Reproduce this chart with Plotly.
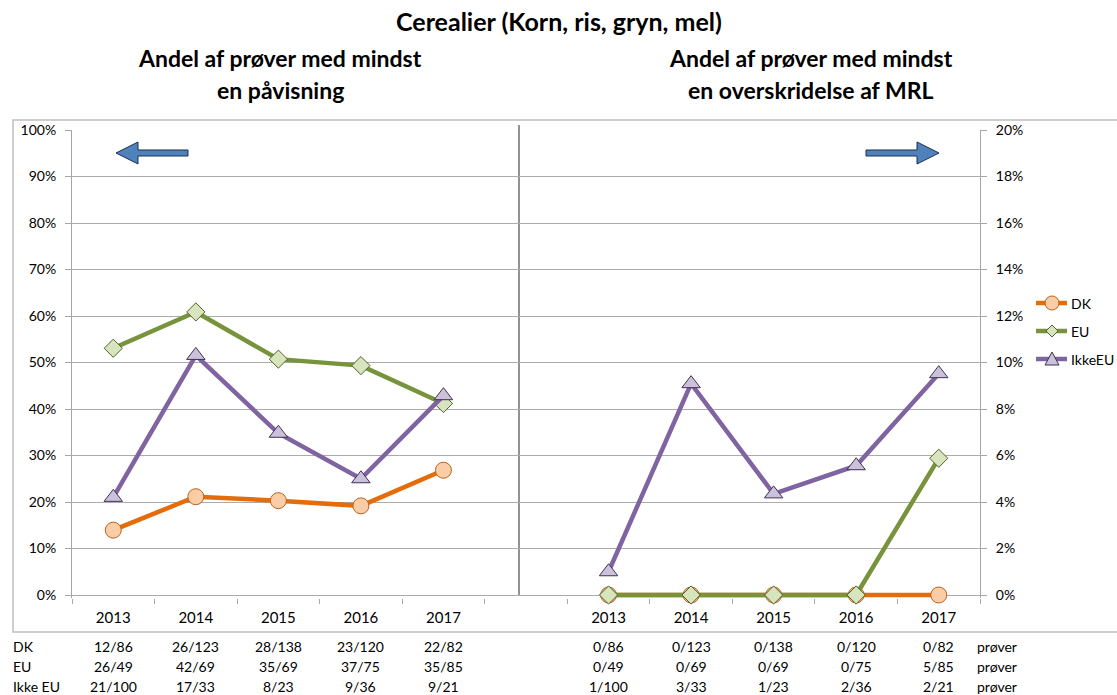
import plotly.graph_objects as go

years = ["2013", "2014", "2015", "2016", "2017"]
series_names = ["DK", "EU", "IkkeEU"]
row_labels = ["DK", "EU", "Ikke EU"]

# Left panel: share of samples with at least one detection (%)
dk_detect = [13.95, 21.14, 20.29, 19.17, 26.83]
eu_detect = [53.06, 60.87, 50.72, 49.33, 41.18]
ikkeeu_detect = [21.0, 51.52, 34.78, 25.0, 42.86]

# Right panel: share of samples with at least one MRL exceedance (%)
dk_mrl = [0.0, 0.0, 0.0, 0.0, 0.0]
eu_mrl = [0.0, 0.0, 0.0, 0.0, 5.88]
ikkeeu_mrl = [1.0, 9.09, 4.35, 5.56, 9.52]

# Table of counts
dk_detect_txt = ["12/86", "26/123", "28/138", "23/120", "22/82"]
eu_detect_txt = ["26/49", "42/69", "35/69", "37/75", "35/85"]
ikkeeu_detect_txt = ["21/100", "17/33", "8/23", "9/36", "9/21"]
dk_mrl_txt = ["0/86", "0/123", "0/138", "0/120", "0/82"]
eu_mrl_txt = ["0/49", "0/69", "0/69", "0/75", "5/85"]
ikkeeu_mrl_txt = ["1/100", "3/33", "1/23", "2/36", "2/21"]

FONT = "Lato"
left_x = list(range(len(years)))
right_x = [i + len(years) + 1 for i in range(len(years))]
all_x = left_x + right_x

styles = {
    "DK": dict(line="#E46C0A", fill="#FBCDA6", edge="#B8621C", symbol="circle", size=16),
    "EU": dict(line="#77933C", fill="#D7E4BD", edge="#4F6228", symbol="diamond", size=14),
    "IkkeEU": dict(line="#8064A2", fill="#CCC1DA", edge="#3F3151", symbol="triangle-up", size=16),
}

fig = go.Figure()
left_data = [dk_detect, eu_detect, ikkeeu_detect]
right_data = [dk_mrl, eu_mrl, ikkeeu_mrl]
for name, ld, rd in zip(series_names, left_data, right_data):
    s = styles[name]
    mk = dict(symbol=s["symbol"], size=s["size"], color=s["fill"], line=dict(color=s["edge"], width=1))
    fig.add_trace(go.Scatter(x=left_x, y=ld, name=name, mode="lines+markers", showlegend=False,
                             line=dict(color=s["line"], width=4.5), marker=mk, cliponaxis=False))
    fig.add_trace(go.Scatter(x=right_x, y=rd, name=name, mode="lines+markers", showlegend=False, yaxis="y2",
                             line=dict(color=s["line"], width=4.5), marker=mk, cliponaxis=False))

# geometry (pixels): 0% at y=595, 100% at y=130; plot area extends 3px below 0 so lines at 0 are not clipped
W, H = 1117, 695
L, R, T, B0 = 72, 980, 130, 595
EXTRA = 3
BP = B0 + EXTRA
PXPCT = (B0 - T) / 100.0
y1min = -EXTRA / PXPCT
y2min = y1min / 5.0

def px(xp):
    return (xp - L) / (R - L)
def py(yp):
    return (BP - yp) / (BP - T)

def txt(text, xp, yp, size, xanchor="center", xref="paper", bold=False):
    return dict(text=("<b>%s</b>" % text) if bold else text, x=xp, y=py(yp), xref=xref, yref="paper",
                xanchor=xanchor, yanchor="middle", showarrow=False,
                font=dict(size=size, family=FONT, color="black"))

annotations = []
annotations.append(txt("Cerealier (Korn, ris, gryn, mel)", px(559), 21, 25, bold=True))
for t, xp, yp in [("Andel af prøver med mindst", 280, 58), ("en påvisning", 280, 90),
                  ("Andel af prøver med mindst", 811, 58), ("en overskridelse af MRL", 811, 90)]:
    annotations.append(txt(t, px(xp), yp, 23, bold=True))

rows_left = [dk_detect_txt, eu_detect_txt, ikkeeu_detect_txt]
rows_right = [dk_mrl_txt, eu_mrl_txt, ikkeeu_mrl_txt]
for r, (lab, lt, rt) in enumerate(zip(row_labels, rows_left, rows_right)):
    yp = 646 + 20 * r
    annotations.append(txt(lab, px(11), yp, 14, xanchor="left"))
    for xi, t in zip(left_x + right_x, lt + rt):
        annotations.append(txt(t, xi, yp, 14, xref="x"))
    annotations.append(txt("prøver", px(975), yp, 14, xanchor="left"))

shapes = []
shapes.append(dict(type="rect", xref="paper", yref="paper", x0=px(13), x1=px(1125), y0=py(632), y1=py(120),
                   line=dict(color="#BFBFBF", width=1.5), layer="below"))
shapes.append(dict(type="line", xref="paper", yref="paper", x0=px(519), x1=px(519), y0=py(595), y1=py(125),
                   line=dict(color="#262626", width=1), layer="below"))

def poly(pts):
    return "M " + " L ".join("%f,%f" % (px(a), py(b)) for a, b in pts) + " Z"

def arrow_pts(x_tip, x_tail, yc, d):
    hh, sh, hl = 11, 3, 22
    xb = x_tip - d * hl
    return [(x_tail, yc - sh), (xb, yc - sh), (xb, yc - hh), (x_tip, yc), (xb, yc + hh), (xb, yc + sh), (x_tail, yc + sh)]
shapes.append(dict(type="path", xref="paper", yref="paper", path=poly(arrow_pts(116, 188, 153, -1)),
                   fillcolor="#4F81BD", line=dict(color="#1F2F4A", width=1)))
shapes.append(dict(type="path", xref="paper", yref="paper", path=poly(arrow_pts(939, 866, 153, 1)),
                   fillcolor="#4F81BD", line=dict(color="#1F2F4A", width=1)))

# manual legend
leg_y = [303, 331, 359]
for name, yc in zip(series_names, leg_y):
    s = styles[name]
    shapes.append(dict(type="line", xref="paper", yref="paper", x0=px(1036), x1=px(1067), y0=py(yc), y1=py(yc),
                       line=dict(color=s["line"], width=4.5)))
    cx = 1052
    if name == "DK":
        shapes.append(dict(type="circle", xref="paper", yref="paper", x0=px(cx - 7), x1=px(cx + 7),
                           y0=py(yc + 7), y1=py(yc - 7), fillcolor=s["fill"], line=dict(color=s["edge"], width=1)))
    elif name == "EU":
        shapes.append(dict(type="path", xref="paper", yref="paper",
                           path=poly([(cx - 6, yc), (cx, yc - 6), (cx + 6, yc), (cx, yc + 6)]),
                           fillcolor=s["fill"], line=dict(color=s["edge"], width=1)))
    else:
        shapes.append(dict(type="path", xref="paper", yref="paper",
                           path=poly([(cx - 7, yc + 6), (cx, yc - 7), (cx + 7, yc + 6)]),
                           fillcolor=s["fill"], line=dict(color=s["edge"], width=1)))
    annotations.append(txt(name, px(1069), yc, 14, xanchor="left"))

fig.update_layout(
    width=W, height=H,
    margin=dict(l=L, r=W - R, t=T, b=H - BP),
    paper_bgcolor="white", plot_bgcolor="white",
    font=dict(family=FONT, color="black", size=14),
    showlegend=False,
    xaxis=dict(range=[-0.5, 10.5], tickvals=all_x, ticktext=years + years, ticks="", showgrid=False,
               zeroline=False, showline=False, tickfont=dict(size=15), ticklabelstandoff=9,
               minor=dict(tickvals=[i - 0.5 for i in range(12)], ticks="outside", ticklen=5,
                          tickcolor="#A6A6A6", showgrid=False)),
    yaxis=dict(range=[y1min, 100], tickvals=list(range(0, 101, 10)),
               ticktext=["%d%%" % v for v in range(0, 101, 10)],
               showgrid=True, gridcolor="#ABABAB", gridwidth=1, zeroline=False, showline=True,
               linecolor="#A6A6A6", ticks="outside", ticklen=6, tickcolor="#A6A6A6",
               ticklabelstandoff=6, tickfont=dict(size=14)),
    yaxis2=dict(range=[y2min, 20], overlaying="y", side="right", tickvals=list(range(0, 21, 2)),
                ticktext=["%d%%" % v for v in range(0, 21, 2)], showgrid=False, zeroline=False,
                showline=True, linecolor="#A6A6A6", ticks="outside", ticklen=6, tickcolor="#A6A6A6",
                ticklabelstandoff=6, tickfont=dict(size=14)),
    annotations=annotations,
    shapes=shapes,
)

fig.write_html("out.html", config={"displayModeBar": False},
               post_script="document.body.style.margin='0';")
